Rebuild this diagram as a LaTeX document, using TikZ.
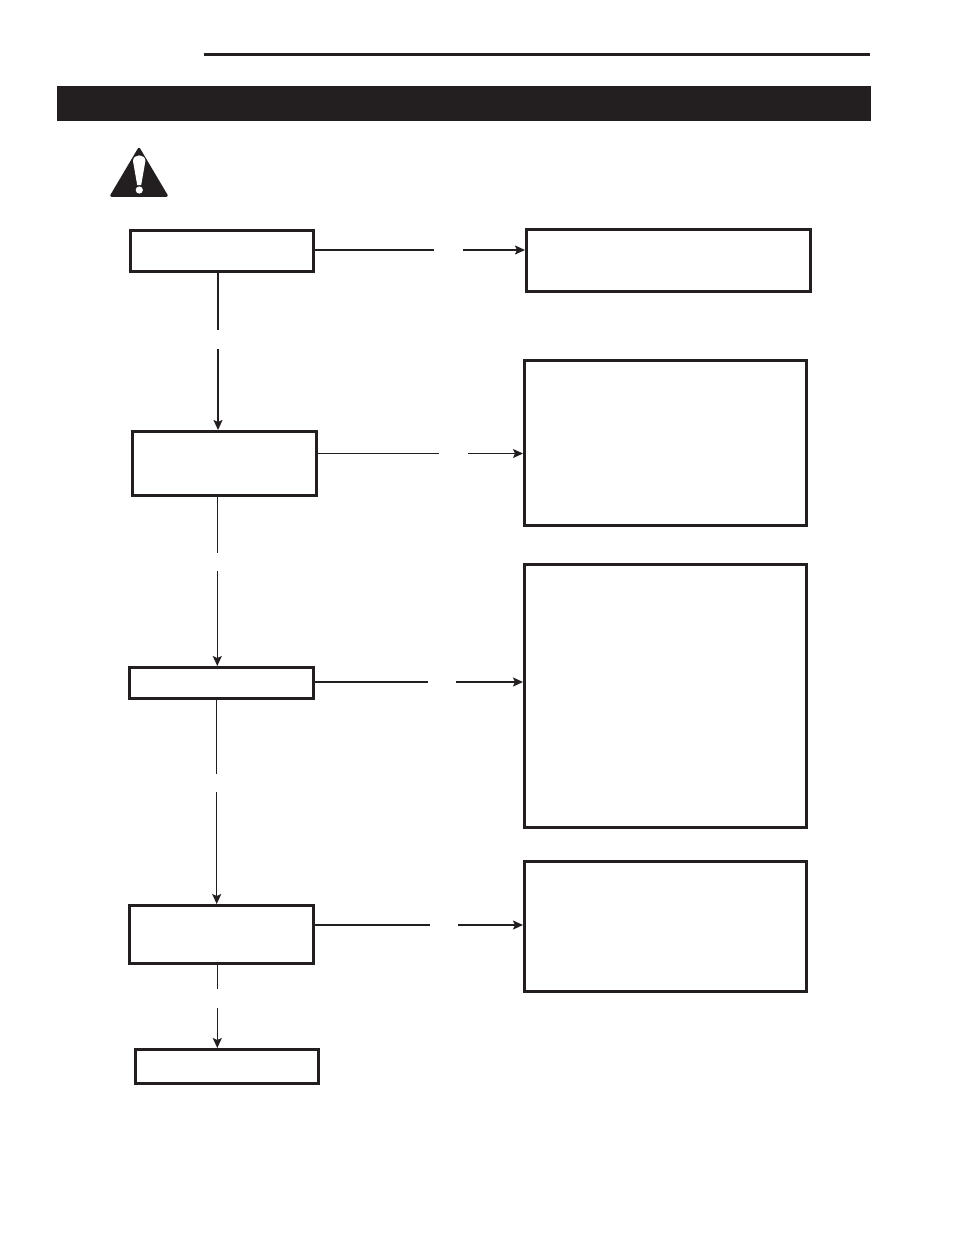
\documentclass[tikz,border=0pt]{standalone}
\usepackage{xcolor}
\usepackage{tikz}
\usetikzlibrary{arrows.meta, positioning}
\definecolor{ink}{HTML}{231F20}

\begin{document}
\begin{tikzpicture}[
  x=1pt, y=-1pt,
  box/.style={rectangle, draw=ink, line width=2.9pt, inner sep=0pt, fill=white},
  link/.style={draw=ink, line width=1.2pt},
  arrow/.style={link, -{Stealth[length=10pt, width=9pt, inset=2pt]}}
]
  \useasboundingbox (0,0) rectangle (954,1235);
  \fill[white] (0,0) rectangle (954,1235);

  % header
  \draw[ink, line width=3pt] (203.5,54.5) -- (870,54.5);
  \node[rectangle, fill=ink, inner sep=0pt, minimum width=814pt, minimum height=35pt] (band) at (464,103.5) {};

  % warning sign
  \fill[ink, draw=ink, line width=2.5pt, line join=round] (139,149) -- (166.5,195.5) -- (111.5,195.5) -- cycle;
  \fill[white] (133,161) .. controls (133,153.5) and (145.4,153.5) .. (145.4,161) -- (141.2,185) -- (137.2,185) -- cycle;
  \fill[white] (139.3,190) circle (3.6pt);

  % left column
  \node[box, minimum width=183.1pt, minimum height=40.8pt] (check) at (222,250.85) {};
  \node[box, minimum width=184.1pt, minimum height=64.1pt, below=157.3pt of check, xshift=2.5pt] (test) {};
  \node[box, minimum width=183.8pt, minimum height=31.1pt, below=169pt of test, xshift=-3.15pt] (measure) {};
  \node[box, minimum width=184.1pt, minimum height=57.8pt, below=204pt of measure, xshift=.15pt] (inspect) {};
  \node[box, minimum width=182.8pt, minimum height=33.8pt, below=83.3pt of inspect, xshift=5.35pt] (finish) {};

  % right column
  \node[box, minimum width=283.6pt, minimum height=62.4pt, right=210pt of check, yshift=-9.8pt] (fixa) {};
  \node[box, minimum width=281.6pt, minimum height=164.8pt, below=65.7pt of fixa, xshift=-3pt] (fixb) {};
  \node[box, minimum width=281.6pt, minimum height=263.1pt, below=36.3pt of fixb] (fixc) {};
  \node[box, minimum width=281.6pt, minimum height=130.1pt, below=31pt of fixc] (fixd) {};

  % gaps left in the connectors
  \coordinate (downa) at (218,330);
  \coordinate (upa) at (218,349);
  \coordinate (downb) at (217.3,552.7);
  \coordinate (upb) at (217.3,571);
  \coordinate (downc) at (216.7,774);
  \coordinate (upc) at (216.7,792);
  \coordinate (downd) at (217.3,989);
  \coordinate (upd) at (217.3,1008);
  \coordinate (outa) at (434,250);
  \coordinate (ina) at (463,250);
  \coordinate (outb) at (439,453.5);
  \coordinate (inb) at (468,453.5);
  \coordinate (outc) at (428,682);
  \coordinate (inc) at (456,682);
  \coordinate (outd) at (430,925);
  \coordinate (ind) at (458,925);

  \draw[link, line width=1.8pt] (check.south -| downa) -- (downa);
  \draw[arrow, line width=1.8pt] (upa) -- (test.north -| upa);
  \draw[link] (test.south -| downb) -- (downb);
  \draw[arrow] (upb) -- (measure.north -| upb);
  \draw[link] (measure.south -| downc) -- (downc);
  \draw[arrow] (upc) -- (inspect.north -| upc);
  \draw[link] (inspect.south -| downd) -- (downd);
  \draw[arrow] (upd) -- (finish.north -| upd);

  \draw[link, line width=1.6pt] (check.east |- outa) -- (outa);
  \draw[arrow, line width=1.6pt] (ina) -- (fixa.west |- ina);
  \draw[link, line width=1pt] (test.east |- outb) -- (outb);
  \draw[arrow, line width=1pt] (inb) -- (fixb.west |- inb);
  \draw[link, line width=1.6pt] (measure.east |- outc) -- (outc);
  \draw[arrow, line width=1.6pt] (inc) -- (fixc.west |- inc);
  \draw[link, line width=1.6pt] (inspect.east |- outd) -- (outd);
  \draw[arrow, line width=1.6pt] (ind) -- (fixd.west |- ind);
\end{tikzpicture}
\end{document}
